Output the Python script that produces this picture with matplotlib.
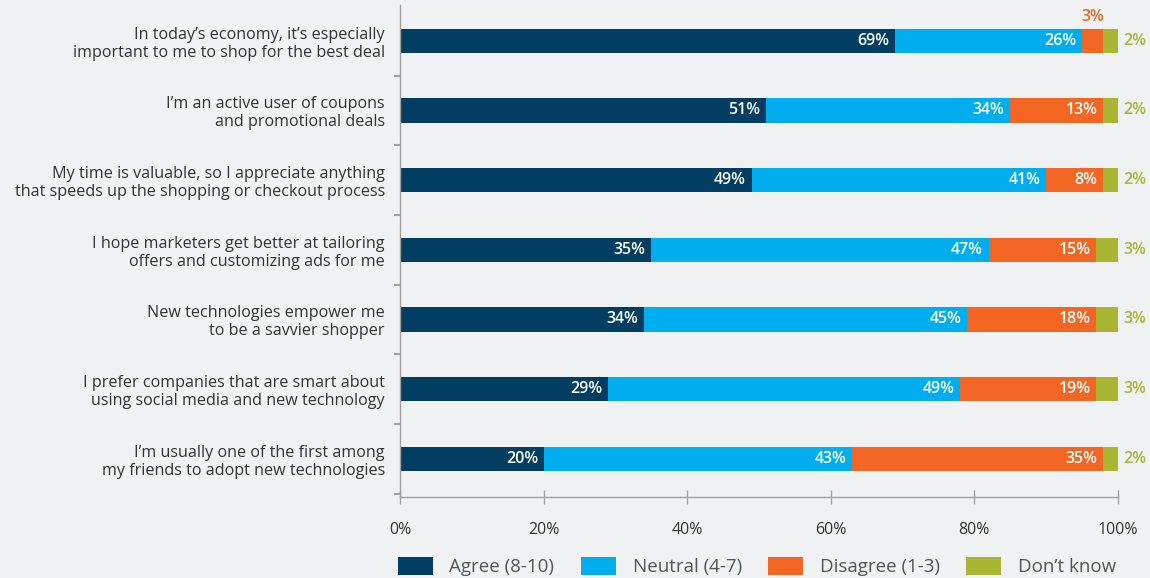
import matplotlib.pyplot as plt
from matplotlib.patches import Patch
import numpy as np

plt.rcParams['font.family'] = ['Open Sans', 'DejaVu Sans']

statements = [
    "In today\u2019s economy, it\u2019s especially\nimportant to me to shop for the best deal",
    "I\u2019m an active user of coupons\nand promotional deals",
    "My time is valuable, so I appreciate anything\nthat speeds up the shopping or checkout process",
    "I hope marketers get better at tailoring\noffers and customizing ads for me",
    "New technologies empower me\nto be a savvier shopper",
    "I prefer companies that are smart about\nusing social media and new technology",
    "I\u2019m usually one of the first among\nmy friends to adopt new technologies",
]
agree = [69, 51, 49, 35, 34, 29, 20]
neutral = [26, 34, 41, 47, 45, 49, 43]
disagree = [3, 13, 8, 15, 18, 19, 35]
dont_know = [2, 2, 2, 3, 3, 3, 2]

series_names = ["Agree (8-10)", "Neutral (4-7)", "Disagree (1-3)", "Don\u2019t know"]
colors = ["#023e62", "#00aeef", "#f26522", "#a8b634"]

bg = "#f0f1f3"
text_col = "#333333"
axis_col = "#a0a0a0"

fig = plt.figure(figsize=(11.5, 5.78), dpi=100, facecolor=bg)
ax = fig.add_axes([0.348, 0.140, 0.624, 0.851], facecolor=bg)

y = np.arange(len(statements))
left = np.zeros(len(statements))
h = 0.35
for vals, col in zip([agree, neutral, disagree, dont_know], colors):
    vals = np.array(vals, dtype=float)
    ax.barh(y, vals, left=left, height=h, color=col, linewidth=0)
    left += vals

# value labels
for i in range(len(statements)):
    start = 0
    for j, vals in enumerate([agree, neutral, disagree]):
        v = vals[i]
        end = start + v
        if v >= 5:
            ax.text(end - 0.8, i, f"{v}%", ha='right', va='center',
                    color='white', fontsize=11.5, fontweight='semibold')
        else:
            ax.text(start + v / 2, i - 0.34, f"{v}%", ha='center', va='center',
                    color=colors[j], fontsize=11.5, fontweight='semibold')
        start = end
    ax.text(102.3, i, f"{dont_know[i]}%", ha='center', va='center',
            color=colors[3], fontsize=11.5, fontweight='semibold')

ax.set_xlim(0, 100)
ax.set_ylim(6.55, -0.51)
ax.set_yticks(y)
ax.set_yticklabels(statements, fontsize=11.6, color=text_col, linespacing=1.15)
ax.set_yticks(np.arange(0.5, 7, 1), minor=True)
ax.tick_params(axis='y', which='major', length=0, pad=11)
ax.tick_params(axis='y', which='minor', length=4, width=1.5, color=axis_col)

ax.set_xticks(np.arange(0, 101, 20))
ax.set_xticklabels([f"{v}%" for v in range(0, 101, 20)])
ax.tick_params(axis='x', direction='inout', length=10, width=1, color=axis_col,
               labelsize=11.5, labelcolor=text_col, pad=13)

for s in ['top', 'right']:
    ax.spines[s].set_visible(False)
for s in ['left', 'bottom']:
    ax.spines[s].set_color(axis_col)
    ax.spines[s].set_linewidth(1)

handles = [Patch(facecolor=c, edgecolor='none') for c in colors]
fig.legend(handles, series_names, loc='center left', bbox_to_anchor=(0.331, 0.02),
           ncol=4, frameon=False, fontsize=13.5, handlelength=1.87, handleheight=1.1,
           handletextpad=0.9, columnspacing=1.4, labelcolor='#555555')

fig.savefig("out.png", dpi=100, facecolor=bg)
